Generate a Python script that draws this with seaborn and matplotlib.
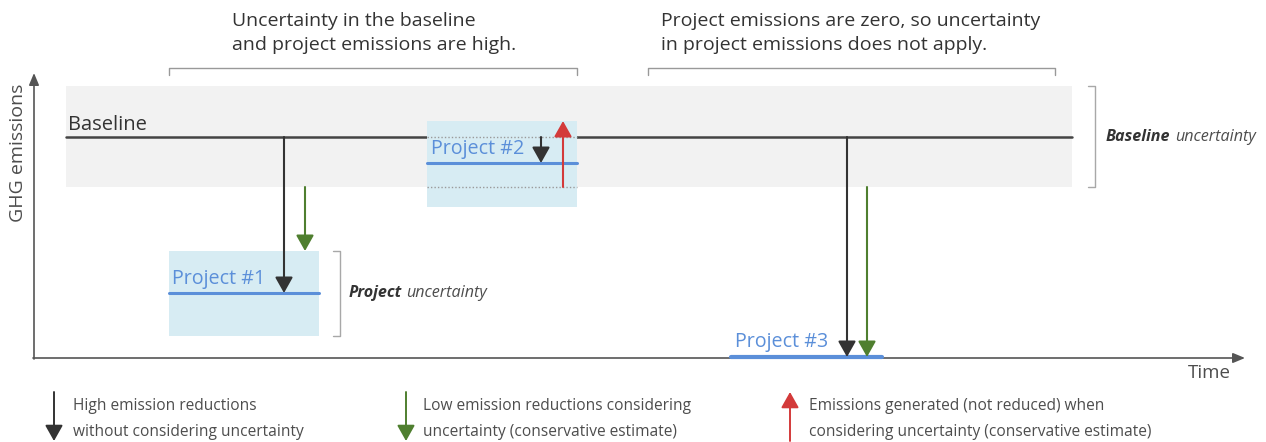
import numpy as np
import pandas as pd
import seaborn as sns
import matplotlib.pyplot as plt

# conceptual data (time / emission units, origin at the axes corner)
baseline_level = 221
baseline_low, baseline_high = 171, 272
baseline_span = [32, 1038]

projects = ["Project #1", "Project #2", "Project #3"]
proj_start = [135, 393, 697]
proj_end = [285, 543, 848]
proj_level = [65, 195, 1]
proj_low = [22, 151, None]
proj_high = [107, 237, None]

# reduction arrows: time, from, to
high_t = [250, 507, 813]
high_from = [221, 221, 221]
high_to = [65, 195, 1]
low_t = [271, 833]
low_from = [171, 171]
low_to = [107, 1]
gen_t = [529]
gen_from = [171]
gen_to = [237]

notes = ["Uncertainty in the baseline\nand project emissions are high.",
         "Project emissions are zero, so uncertainty\nin project emissions does not apply."]
note_span = [(135, 543), (614, 1021)]

legend_txt = ["High emission reductions\nwithout considering uncertainty",
              "Low emission reductions considering\nuncertainty (conservative estimate)",
              "Emissions generated (not reduced) when\nconsidering uncertainty (conservative estimate)"]

sns.set_theme(style="white")
plt.rcParams['font.family'] = ['Open Sans', 'DejaVu Sans']

DARK = "#333333"
GREY = "#4d4d4d"
BLUE = "#5b8fd9"
BOXBLUE = "#d7ecf3"
GREEN = "#4f7f2f"
RED = "#d33a3a"

fig = plt.figure(figsize=(12.66, 4.42), dpi=100)
ax = fig.add_axes([0, 0, 1, 1])
ax.set_xlim(-34, 1232)
ax.set_ylim(-84, 358)
ax.axis('off')


def arrow(x, y0, y1, color, lw=1.5):
    ax.annotate("", xy=(x, y1), xytext=(x, y0),
                arrowprops=dict(arrowstyle="-|>,head_length=0.8,head_width=0.45",
                                color=color, lw=lw, shrinkA=0, shrinkB=0),
                zorder=6)


def rich(x, y, bold, rest, size):
    t = ax.text(x, y, bold, fontsize=size, fontweight='bold', style='italic',
                color=DARK, va='center')
    ax.annotate(rest, xy=(1, 0.5), xycoords=t, xytext=(3, 0), textcoords='offset points',
                va='center', fontsize=size, style='italic', color=GREY)


# axes arrows
ax.annotate("", xy=(0, 285), xytext=(0, -1),
            arrowprops=dict(arrowstyle="-|>,head_length=0.6,head_width=0.25",
                            color="#555555", lw=1.2, shrinkA=0, shrinkB=0))
ax.annotate("", xy=(1211, 0), xytext=(-1, 0),
            arrowprops=dict(arrowstyle="-|>,head_length=0.6,head_width=0.25",
                            color="#555555", lw=1.2, shrinkA=0, shrinkB=0))
ax.text(-16, 205, "GHG emissions", rotation=90, ha='center', va='center',
        fontsize=14, color=GREY)
ax.text(1175, -15, "Time", ha='center', va='center', fontsize=13.5, color=GREY)

# baseline band and line
ax.fill_between(baseline_span, baseline_low, baseline_high, color="#f2f2f2", lw=0, zorder=1)
base = pd.DataFrame({"t": baseline_span, "e": [baseline_level] * 2})
sns.lineplot(data=base, x="t", y="e", color="#444444", lw=1.8, ax=ax, zorder=2)
ax.text(34, 233, "Baseline", fontsize=14.5, color=DARK, va='center')

# project boxes and levels
for i, name in enumerate(projects):
    x0, x1 = proj_start[i], proj_end[i]
    if proj_low[i] is not None:
        ax.fill_between([x0, x1], proj_low[i], proj_high[i], color=BOXBLUE, lw=0, zorder=3)
    d = pd.DataFrame({"t": [x0, x1], "e": [proj_level[i]] * 2})
    sns.lineplot(data=d, x="t", y="e", color=BLUE, lw=2.2 if i < 2 else 3, ax=ax, zorder=4)

# dotted guides inside project 2 box
for yv in [baseline_level, baseline_low]:
    ax.plot([proj_start[1], proj_end[1]], [yv, yv], ls=(0, (1, 1.5)), color="#9a9a9a",
            lw=1, zorder=4)

ax.text(proj_start[0] + 3, 79, projects[0], color=BLUE, fontsize=14.2, va='center', zorder=5)
ax.text(proj_start[1] + 4, 209, projects[1], color=BLUE, fontsize=14.2, va='center', zorder=5)
ax.text(proj_start[2] + 4, 16, projects[2], color=BLUE, fontsize=14.2, va='center', zorder=5)

# arrows
for t, a, b in zip(high_t, high_from, high_to):
    arrow(t, a, b, DARK)
for t, a, b in zip(low_t, low_from, low_to):
    arrow(t, a, b, GREEN)
for t, a, b in zip(gen_t, gen_from, gen_to):
    arrow(t, a, b, RED)

# brackets
BR = "#a8a8a8"
ax.plot([1054, 1061, 1061, 1054], [baseline_high, baseline_high, baseline_low, baseline_low],
        color=BR, lw=1)
rich(1072, baseline_level, "Baseline", "uncertainty", 11.6)
ax.plot([299, 306, 306, 299], [proj_high[0], proj_high[0], proj_low[0], proj_low[0]],
        color=BR, lw=1)
rich(315, proj_level[0], "Project", "uncertainty", 11.6)

for (a, b), txt in zip(note_span, notes):
    ax.plot([a, a, b, b], [283, 290, 290, 283], color="#999999", lw=1)
    ax.text(a + 63 if a < 300 else a + 13, 346, txt, fontsize=14, color=DARK,
            va='top', ha='left', linespacing=1.45)

# legend
leg_x = [20, 372, 756]
leg_col = [DARK, GREEN, RED]
for i, (lx, c, txt) in enumerate(zip(leg_x, leg_col, legend_txt)):
    if i < 2:
        arrow(lx, -34, -83, c, lw=1.4)
    else:
        arrow(lx, -83, -34, c, lw=1.4)
    ax.text(lx + 19 if i != 1 else lx + 17, -61, txt, fontsize=11.2, color=GREY,
            va='center', linespacing=1.8)

ax.set_xlim(-34, 1232)
ax.set_ylim(-84, 358)
fig.savefig("out.png", dpi=100)
